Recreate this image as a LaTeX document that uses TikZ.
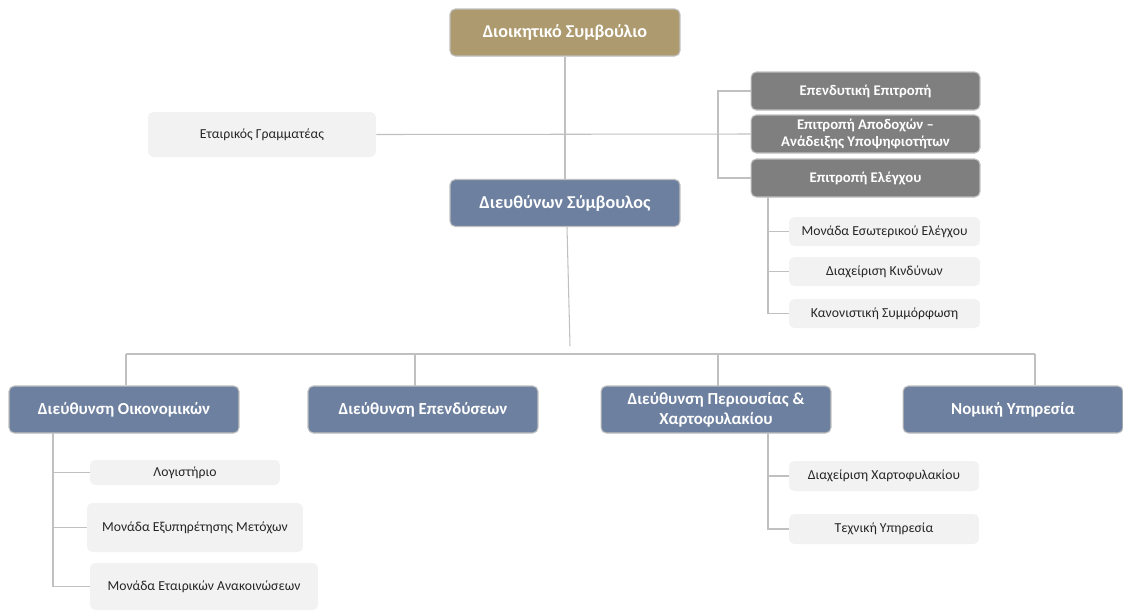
\documentclass[tikz,border=0pt]{standalone}
\usepackage{fontspec}
\setmainfont{Carlito}
\usepackage{xcolor}
\definecolor{boardtan}{HTML}{AD9A6E}
\definecolor{execblue}{HTML}{6D809F}
\definecolor{comgrey}{HTML}{7F7F7F}
\definecolor{unitgrey}{HTML}{F2F2F2}
\definecolor{linegrey}{HTML}{C0C0C0}
\definecolor{edgegrey}{HTML}{BFBFBF}
\definecolor{unittext}{HTML}{262626}
\usepackage{tikz}

\tikzset{
  topbox/.style={draw=edgegrey, line width=0.6pt, rounded corners=3pt, text=white,
    font=\fontsize{9.6}{11.4}\selectfont\bfseries, align=center, inner sep=0pt},
  boardbox/.style={topbox, fill=boardtan, minimum width=4.6cm, minimum height=0.94cm,
    font=\fontsize{10.3}{12}\selectfont\bfseries},
  dirbox/.style={topbox, fill=execblue, minimum width=4.6cm, minimum height=0.94cm},
  combox/.style={topbox, fill=comgrey, minimum width=4.58cm, minimum height=0.76cm,
    font=\fontsize{8.4}{10}\selectfont\bfseries},
  unitbox/.style={fill=unitgrey, rounded corners=3pt, text=unittext, align=center,
    inner sep=0pt, font=\fontsize{7.8}{9.4}\selectfont},
  link/.style={draw=linegrey, line width=0.6pt}
}

\begin{document}
\begin{tikzpicture}[x=0.02cm, y=-0.02cm]
\useasboundingbox (0,0) rectangle (1123,610);

% board and ceo
\node (board) at (565,32.5) [boardbox] {Διοικητικό Συμβούλιο};
\node (ceo) at (565,203) [boardbox, fill=execblue] {Διευθύνων Σύμβουλος};
\node (sec) at (262,134.5) [unitbox, minimum width=4.56cm, minimum height=0.9cm] {Εταιρικός Γραμματέας};

% committees
\node (invcom) at (865.5,91) [combox] {Επενδυτική Επιτροπή};
\node (remcom) at (865.5,134) [combox] {Επιτροπή Αποδοχών –\\Ανάδειξης Υποψηφιοτήτων};
\node (audcom) at (865.5,178) [combox] {Επιτροπή Ελέγχου};

\node (intaud) at (884.5,231.5) [unitbox, minimum width=3.82cm, minimum height=0.58cm] {Μονάδα Εσωτερικού Ελέγχου};
\node (risk) at (884.5,271.5) [unitbox, minimum width=3.82cm, minimum height=0.58cm] {Διαχείριση Κινδύνων};
\node (compl) at (884.5,313.5) [unitbox, minimum width=3.82cm, minimum height=0.58cm] {Κανονιστική Συμμόρφωση};

% directorates
\node (fin) at (124,409.5) [dirbox] {Διεύθυνση Οικονομικών};
\node (inv) at (423,409.5) [dirbox] {Διεύθυνση Επενδύσεων};
\node (prop) at (716,409.5) [dirbox] {Διεύθυνση Περιουσίας \&\\Χαρτοφυλακίου};
\node (legal) at (1013,409.5) [dirbox, minimum width=4.4cm] {Νομική Υπηρεσία};

\node (acc) at (185,472.5) [unitbox, minimum width=3.8cm, minimum height=0.5cm] {Λογιστήριο};
\node (share) at (195,527.5) [unitbox, minimum width=4.32cm, minimum height=0.98cm] {Μονάδα Εξυπηρέτησης Μετόχων};
\node (annc) at (204,586.5) [unitbox, minimum width=4.56cm, minimum height=0.94cm] {Μονάδα Εταιρικών Ανακοινώσεων};

\node (port) at (884,476) [unitbox, minimum width=3.8cm, minimum height=0.6cm] {Διαχείριση Χαρτοφυλακίου};
\node (tech) at (884,529) [unitbox, minimum width=3.8cm, minimum height=0.6cm] {Τεχνική Υπηρεσία};

% connectors
\coordinate (ceoend) at (570,346);
\coordinate (busl) at (126,354);
\coordinate (busr) at (1035,354);

\draw[link] (board) to (ceo);
\draw[link] (sec.east) to (remcom.west);
\draw[link] (invcom.west) -| (718,135) |- (audcom.west);
\draw[link] (ceo.south -| 567,0) to (ceoend);
\draw[link] (busl) to (busr);
\draw[link] (busl) to (busl |- fin.north);
\draw[link] (415,354) to (415,386);
\draw[link] (718,354) to (718,386);
\draw[link] (busr) to (busr |- legal.north);

\draw[link] (768,197) |- (compl.west);
\draw[link] (768,231.5) to (intaud.west);
\draw[link] (768,271.5) to (risk.west);

\draw[link] (53,433) |- (annc.west);
\draw[link] (53,472.5) to (acc.west);
\draw[link] (53,527.5) to (share.west);

\draw[link] (768,433) |- (tech.west);
\draw[link] (768,476) to (port.west);
\end{tikzpicture}
\end{document}
